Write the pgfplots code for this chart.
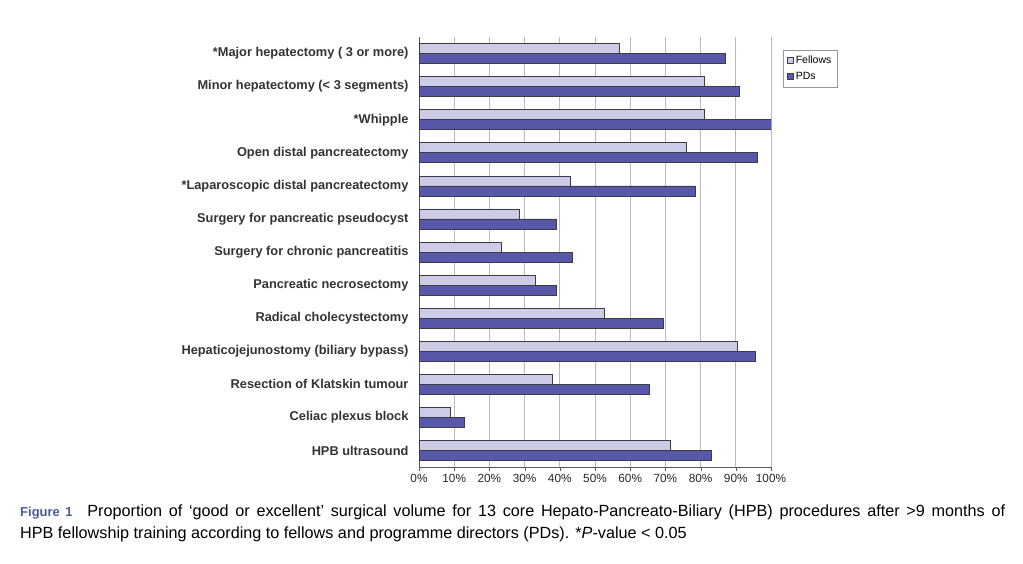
\documentclass[border=0pt]{standalone}
\usepackage{fontspec}
\setmainfont{Liberation Sans}
\usepackage{pgfplots}
\pgfplotsset{compat=1.18}
\definecolor{fel}{RGB}{204,204,230}
\definecolor{pds}{RGB}{88,88,170}
\definecolor{figblue}{RGB}{70,90,160}
\definecolor{edge}{RGB}{60,60,70}
\begin{document}
\begin{tikzpicture}[x=1pt,y=1pt]
\useasboundingbox (0,0) rectangle (1023,563);
\begin{axis}[
  at={(419pt,96pt)}, anchor=south west,
  width=352pt, height=430pt, scale only axis,
  xbar, bar width=10pt,
  xmin=0, xmax=100,
  ymin=-0.5, ymax=12.5, y dir=reverse,
  ytick={0,...,12},
  yticklabels={{*Major hepatectomy ( 3 or more)},{Minor hepatectomy (< 3 segments)},{*Whipple},{Open distal pancreatectomy},{*Laparoscopic distal pancreatectomy},{Surgery for pancreatic pseudocyst},{Surgery for chronic pancreatitis},{Pancreatic necrosectomy},{Radical cholecystectomy},{Hepaticojejunostomy (biliary bypass)},{Resection of Klatskin tumour},{Celiac plexus block},{HPB ultrasound}},
  yticklabel style={font=\fontsize{12.8}{14}\selectfont\bfseries, text=black!80, xshift=-3pt},
  major y tick style={draw=none},
  extra y ticks={-0.5,0.5,...,12.5},
  extra y tick labels={},
  extra y tick style={grid=none, major tick length=4pt, tick align=outside, tick style={draw=gray!70!black}},
  xtick={0,10,...,100},
  xticklabel={\pgfmathprintnumber{\tick}\%},
  /pgf/number format/assume math mode=true,
  xticklabel style={font=\fontsize{11.8}{12}\selectfont, text=black!85},
  x tick style={draw=gray!70!black},
  tick align=outside, major tick length=4pt,
  xmajorgrids, grid style={draw=gray!55, line width=0.8pt},
  axis x line*=bottom, axis y line*=left,
  axis line style={draw=gray!70!black, line width=0.8pt},
  legend style={at={(1.034,0.970)}, anchor=north west, draw=gray!80, font=\fontsize{10.5}{12}\selectfont, legend cell align=left, inner sep=4pt, row sep=3pt},
  legend image code/.code={\draw[#1,draw=edge] (0pt,-3pt) rectangle (6pt,3pt);},
]
\addplot[fill=fel, draw=edge, line width=0.6pt, bar shift=5pt] coordinates {
(57,0) (81,1) (81,2) (76,3) (43,4) (28.5,5) (23.5,6) (33,7) (52.5,8) (90.5,9) (38,10) (9,11) (71.5,12)};
\addlegendentry{Fellows}
\addplot[fill=pds, draw=edge, line width=0.6pt, bar shift=-5pt] coordinates {
(87,0) (91,1) (100,2) (96,3) (78.5,4) (39,5) (43.5,6) (39,7) (69.5,8) (95.5,9) (65.5,10) (13,11) (83,12)};
\addlegendentry{PDs}
\end{axis}
\node[anchor=base west, inner sep=0pt] at (20,47) {\makebox[985pt][s]{\fontsize{16.2}{19}\selectfont{\fontsize{13}{15}\selectfont\bfseries\color{figblue}Figure 1}\hspace{0.5em} Proportion of ‘good or excellent’ surgical volume for 13 core Hepato-Pancreato-Biliary (HPB) procedures after >9 months of}};
\node[anchor=base west, inner sep=0pt] at (20,25) {\fontsize{16.2}{19}\selectfont HPB fellowship training according to fellows and programme directors (PDs). *\textit{P}-value < 0.05};
\end{tikzpicture}
\end{document}
